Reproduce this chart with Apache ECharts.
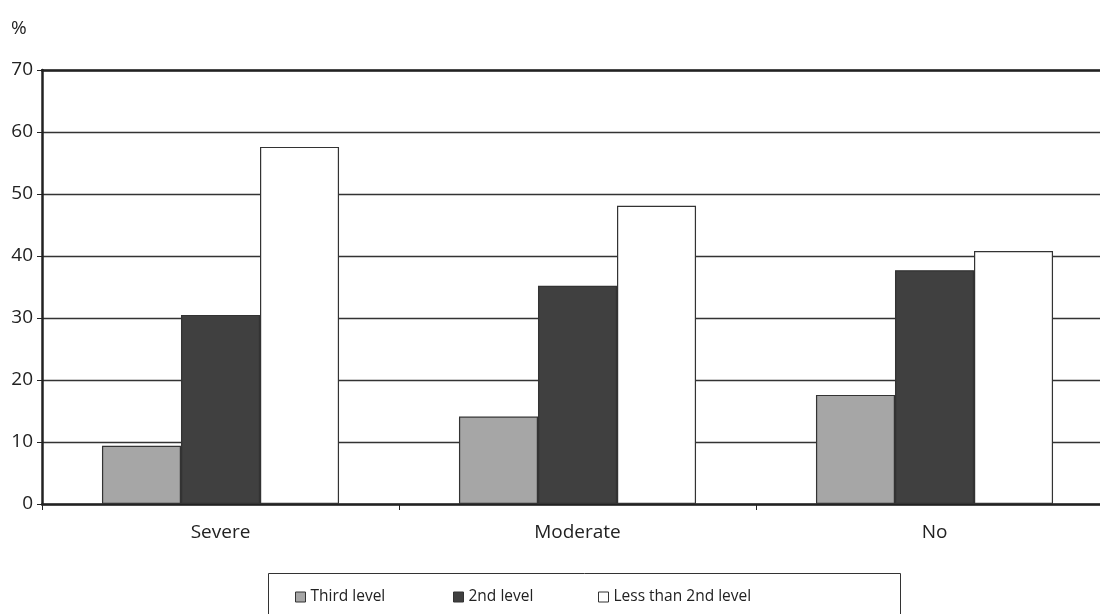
<!DOCTYPE html>
<html><head><meta charset="utf-8">
<script src="https://cdn.jsdelivr.net/npm/echarts@6/dist/echarts.min.js"></script>
<style>html,body{margin:0;padding:0;background:#fff}#c{width:1100px;height:614px}</style>
</head><body><div id="c"></div>
<script>
const categories = ['Severe', 'Moderate', 'No'];
const seriesNames = ['Third level', '2nd level', 'Less than 2nd level'];
const thirdLevel = [9.4, 14.1, 17.6];
const secondLevel = [30.5, 35.2, 37.7];
const lessThanSecond = [57.6, 48.1, 40.8];
const yTicks = [0, 10, 20, 30, 40, 50, 60, 70];

const font = '"Open Sans", "Noto Sans", sans-serif';
const colors = ['#a6a6a6', '#404040', '#ffffff'];
const values = [thirdLevel, secondLevel, lessThanSecond];
const legendLefts = [295, 453, 598];

const chart = echarts.init(document.getElementById('c'));
chart.setOption({
  animation: false,
  backgroundColor: '#fff',
  textStyle: { fontFamily: font },
  grid: { left: 42, width: 1071, top: 70, height: 434, containLabel: false, outerBoundsMode: 'none' },
  graphic: [
    { type: 'rect', shape: { x: 268.5, y: 573.5, width: 632, height: 60 },
      style: { fill: 'none', stroke: '#333', lineWidth: 1 }, z: 0 },
    { type: 'text', left: 11, top: 19, style: { text: '%', font: '19px ' + font, fill: '#222' } }
  ],
  legend: seriesNames.map((n, i) => ({
    left: legendLefts[i], top: 589, padding: 0,
    itemWidth: 10, itemHeight: 10, itemGap: 6,
    icon: 'rect',
    data: [n],
    textStyle: { fontFamily: font, fontSize: 15.5, color: '#222' },
    itemStyle: { borderColor: '#333', borderWidth: 1 }
  })),
  xAxis: [{
    type: 'category', data: categories, position: 'bottom',
    axisLine: { lineStyle: { color: '#222', width: 2.5 } },
    axisTick: { show: true, length: 6, lineStyle: { color: '#222', width: 1 } },
    axisLabel: { fontSize: 19, color: '#222', margin: 19, fontFamily: font }
  }, {
    type: 'category', data: categories, position: 'top',
    axisLine: { show: true, lineStyle: { color: '#222', width: 2.5 } },
    axisTick: { show: false }, axisLabel: { show: false }
  }],
  yAxis: {
    type: 'value', min: 0, max: 70, interval: 10,
    axisLine: { show: true, lineStyle: { color: '#222', width: 2.5 } },
    axisTick: { show: true, length: 5, lineStyle: { color: '#222', width: 1 } },
    axisLabel: { fontSize: 19, color: '#222', margin: 9, fontFamily: font,
      formatter: v => yTicks.includes(v) ? String(v) : '' },
    splitLine: { show: true, lineStyle: { color: '#333', width: 1.3 } }
  },
  series: seriesNames.map((n, i) => ({
    name: n, type: 'bar', data: values[i], xAxisIndex: 0,
    barGap: '0%', barCategoryGap: '33.6%',
    itemStyle: { color: colors[i], borderColor: '#333', borderWidth: 1.2 }
  }))
});
</script></body></html>
